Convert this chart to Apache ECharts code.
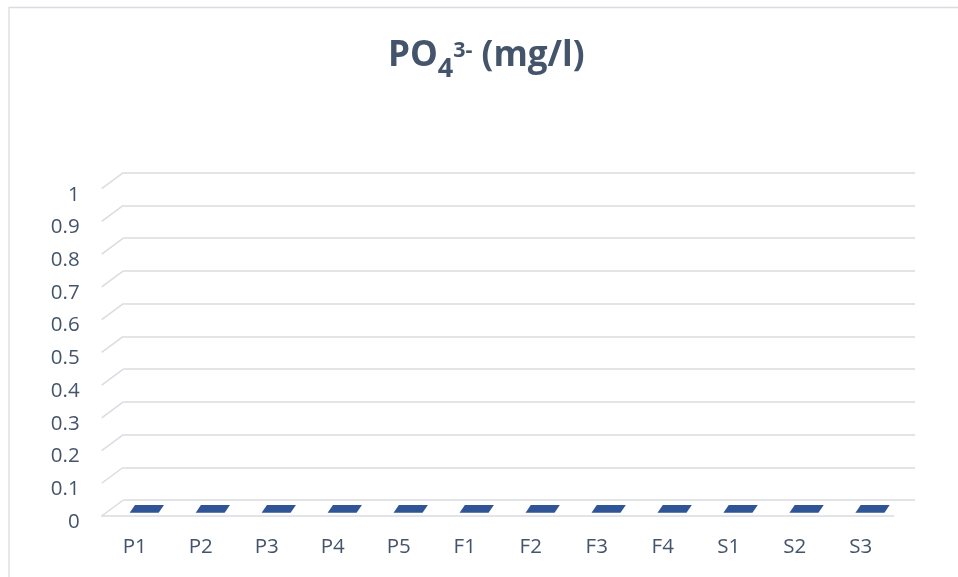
<!DOCTYPE html>
<html><head><meta charset="utf-8">
<script src="https://cdn.jsdelivr.net/npm/echarts@6/dist/echarts.min.js"></script>
<style>html,body{margin:0;padding:0;background:#fff}#c{width:958px;height:577px}</style>
</head><body><div id="c"></div>
<script>
// ---- data ----
const categories = ['P1', 'P2', 'P3', 'P4', 'P5', 'F1', 'F2', 'F3', 'F4', 'S1', 'S2', 'S3'];
const po4Values = [0, 0, 0, 0, 0, 0, 0, 0, 0, 0, 0, 0];
const yTicks = [0, 0.1, 0.2, 0.3, 0.4, 0.5, 0.6, 0.7, 0.8, 0.9, 1];
const yMin = 0, yMax = 1, yInterval = 0.1;

// ---- styles ----
const TEXT = '#44546A';
const GRID = '#D9DCE1';
const BAR = '#2F5597';
const FONT = 'Open Sans';
const DX = -21.6, DY = 16; // back wall -> front edge offset

const chart = echarts.init(document.getElementById('c'), null, { renderer: 'canvas' });
chart.setOption({
  animation: false,
  backgroundColor: '#fff',
  title: {
    left: 383, top: 24,
    text: '{a|PO}{b|4}{c|3-}{a| (mg/l)}',
    textStyle: {
      rich: {
        a: { fontSize: 35, fontWeight: 'bold', color: TEXT, fontFamily: FONT, lineHeight: 42 },
        b: { fontSize: 27, fontWeight: 'bold', color: TEXT, fontFamily: FONT, padding: [27, 0, 0, 0] },
        c: { fontSize: 21.5, fontWeight: 'bold', color: TEXT, fontFamily: FONT, padding: [0, 0, 10, 0] }
      }
    }
  },
  graphic: [{
    type: 'rect', silent: true,
    shape: { x: 9, y: 7.5, width: 1000, height: 1000 },
    style: { fill: 'none', stroke: GRID, lineWidth: 1.3 }
  }],
  grid: [
    { left: 101.7, right: 64.3, top: 188.7, bottom: 61 },
    { left: 123.3, right: 43, top: 172.7, bottom: 77 }
  ],
  xAxis: [
    {
      gridIndex: 0, type: 'category', data: categories,
      axisLine: { show: true, lineStyle: { color: GRID, width: 1.5 } },
      axisTick: { show: false },
      axisLabel: { color: TEXT, fontFamily: FONT, fontSize: 20.5, margin: 21 }
    },
    {
      gridIndex: 1, type: 'category', data: categories,
      axisLine: { show: false }, axisTick: { show: false }, axisLabel: { show: false }
    }
  ],
  yAxis: [
    {
      gridIndex: 0, type: 'value', min: yMin, max: yMax, interval: yInterval,
      axisLine: { show: false }, axisTick: { show: false }, splitLine: { show: false },
      axisLabel: { color: TEXT, fontFamily: FONT, fontSize: 20.5, margin: 22, verticalAlign: 'top', lineHeight: 12 }
    },
    {
      gridIndex: 1, type: 'value', min: yMin, max: yMax, interval: yInterval,
      axisLine: { show: false }, axisTick: { show: false }, axisLabel: { show: false },
      splitLine: { show: true, lineStyle: { color: GRID, width: 1.5 } }
    }
  ],
  series: [
    {
      type: 'custom', xAxisIndex: 1, yAxisIndex: 1, silent: true,
      data: yTicks.map(v => [0, v]),
      renderItem: function (params, api) {
        const p = api.coord([api.value(0), api.value(1)]);
        const x0 = params.coordSys.x;
        return {
          type: 'line',
          shape: { x1: x0, y1: p[1], x2: x0 + DX, y2: p[1] + DY },
          style: { stroke: GRID, lineWidth: 1.5 }
        };
      }
    },
    {
      type: 'custom', xAxisIndex: 1, yAxisIndex: 1, silent: true,
      data: po4Values.map((v, i) => [i, v]),
      renderItem: function (params, api) {
        const i = api.value(0), v = api.value(1);
        const p = api.coord([i, v]);
        const b = api.coord([i, 0]);
        const hw = 14.5;
        const children = [];
        if (p[1] < b[1] - 0.5) {
          children.push({
            type: 'polygon',
            shape: { points: [[p[0] - 12.1 - hw, p[1] + 12.7], [p[0] - 12.1 + hw, p[1] + 12.7], [b[0] - 12.1 + hw, b[1] + 12.7], [b[0] - 12.1 - hw, b[1] + 12.7]] },
            style: { fill: BAR }
          });
        }
        children.push({
          type: 'polygon',
          shape: { points: [[p[0] - 6.8 - hw, p[1] + 5], [p[0] - 6.8 + hw, p[1] + 5], [p[0] - 12.1 + hw, p[1] + 12.7], [p[0] - 12.1 - hw, p[1] + 12.7]] },
          style: { fill: BAR }
        });
        return { type: 'group', children: children };
      }
    }
  ]
});
</script>
</body></html>
